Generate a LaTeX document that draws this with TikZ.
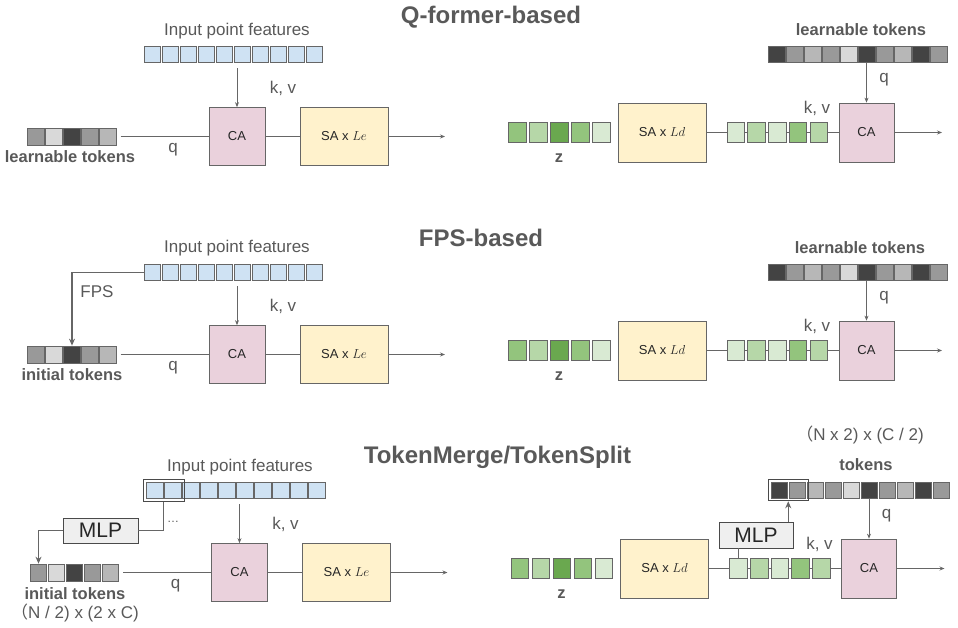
\RequirePackage{fix-cm}
\documentclass[tikz,border=0pt]{standalone}
\usepackage{fontspec}
\setmainfont{Liberation Sans}
\newfontfamily\cjkfont{Noto Sans CJK SC}
\usetikzlibrary{arrows.meta,calc,fit}

\definecolor{txt}{HTML}{595959}
\definecolor{ln}{HTML}{666666}
\definecolor{bdr}{HTML}{666666}
\definecolor{bdrD}{HTML}{4A4A4A}
\definecolor{boxtxt}{HTML}{262626}
\definecolor{blueF}{HTML}{CFE2F3}
\definecolor{caF}{HTML}{EAD1DC}
\definecolor{saF}{HTML}{FFF2CC}
\definecolor{mlpF}{HTML}{EFEFEF}
\definecolor{kA}{HTML}{434343}
\definecolor{kB}{HTML}{999999}
\definecolor{kC}{HTML}{B7B7B7}
\definecolor{kD}{HTML}{D9D9D9}
\definecolor{gA}{HTML}{93C47D}
\definecolor{gB}{HTML}{B6D7A8}
\definecolor{gC}{HTML}{6AA84F}
\definecolor{gD}{HTML}{D9EAD3}

\tikzset{
  cell/.style={draw=bdr, line width=0.7pt, inner sep=0pt, minimum width=16.8pt, minimum height=16.8pt},
  tok/.style={cell, minimum width=16.4pt, minimum height=17pt},
  gcell/.style={cell, minimum width=17.6pt, minimum height=19.8pt},
  blk/.style={draw=bdr, line width=0.7pt, inner sep=0pt, text=boxtxt, font=\fontsize{13}{15}\selectfont},
  mlp/.style={draw=bdrD, line width=0.8pt, fill=mlpF, inner sep=0pt, text=boxtxt, font=\fontsize{21}{24}\selectfont},
  hbox/.style={draw=bdrD, line width=0.8pt, inner sep=2.5pt},
  conn/.style={draw=ln, line width=0.8pt},
  arr/.style={conn, -{Stealth[length=5pt,width=4pt]}},
  thickarr/.style={draw=ln, line width=1.4pt, -{Stealth[length=7pt,width=6pt]}},
  lbl/.style={text=txt, inner sep=0pt, font=\fontsize{17}{20}\selectfont},
  blbl/.style={text=txt, inner sep=0pt, font=\fontsize{16.5}{20}\selectfont\bfseries},
  ttl/.style={text=txt, inner sep=0pt, font=\fontsize{24}{28}\selectfont\bfseries},
  dotlbl/.style={text=txt, inner sep=0pt, font=\fontsize{12}{14}\selectfont},
}

\newcommand{\drawbase}[1]{%
  % ----- left (encoder) -----
  \foreach \i in {1,...,10}
    \node[cell, fill=blueF] (#1-ipf-\i) at ({152.25+18*(\i-1)},54.25) {};
  \foreach \c [count=\i] in {kB,kD,kA,kB,kC}
    \node[tok, fill=\c] (#1-lt-\i) at ({36+18*(\i-1)},136.5) {};
  \node[blk, fill=caF, minimum width=56pt, minimum height=58pt] (#1-ca1) at (237,136.5) {CA};
  \node[blk, fill=saF, minimum width=88pt, minimum height=58pt] (#1-sa1) at (344,136.5) {SA x $Le$};
  \coordinate (#1-out1) at (445,136.5);
  \draw[arr, shorten <=5pt] (#1-ca1.north |- #1-ipf-1.south) -- (#1-ca1.north);
  \draw[conn, shorten <=4pt] (#1-lt-5.east) -- (#1-ca1.west);
  \draw[conn] (#1-ca1.east) -- (#1-sa1.west);
  \draw[arr] (#1-sa1.east) -- (#1-out1);
  \node[lbl] (#1-q1) at (173,150) {q};
  \node[lbl] (#1-kv1) at (283,88) {k, v};
  % ----- right (decoder) -----
  \foreach \c [count=\i] in {kA,kB,kC,kB,kD,kA,kB,kC,kA,kB}
    \node[cell, minimum height=16pt, fill=\c] (#1-gt-\i) at ({776.75+18*(\i-1)},54) {};
  \node[blk, fill=caF, minimum width=55pt, minimum height=59pt] (#1-ca2) at (866.5,132.5) {CA};
  \node[blk, fill=saF, minimum width=88pt, minimum height=59pt] (#1-sa2) at (662,132.5) {SA x $Ld$};
  \foreach \c [count=\i] in {gA,gB,gC,gA,gD}
    \node[gcell, fill=\c] (#1-z-\i) at ({517.2+21*(\i-1)},132.5) {};
  \foreach \c [count=\i] in {gD,gB,gD,gA,gB}
    \node[gcell, fill=\c] (#1-g-\i) at ({735.9+20.7*(\i-1)},132.5) {};
  \coordinate (#1-out2) at (942,132.5);
  \draw[arr] (#1-ca2.north |- #1-gt-6.south) -- (#1-ca2.north);
  \draw[conn] (#1-sa2.east) -- (#1-g-1.west);
  \foreach \i [evaluate=\i as \j using int(\i+1)] in {1,...,4}
    \draw[conn] (#1-g-\i.east) -- (#1-g-\j.west);
  \draw[conn] (#1-g-5.east) -- (#1-ca2.west);
  \draw[arr] (#1-ca2.east) -- (#1-out2);
  \node[lbl] (#1-q2) at (884,80) {q};
  \node[lbl] (#1-kv2) at (817,108) {k, v};
  \node[blbl] (#1-zl) at (559,158) {z};
}

\begin{document}
\begin{tikzpicture}[x=1pt,y=-1pt]
\useasboundingbox (0,0) rectangle (958,627);

% ===== Q-former-based =====
\begin{scope}
  \drawbase{a}
  \node[ttl] (a-title) at (491,17) {Q-former-based};
  \node[lbl] (a-ipfl) at (237,31) {Input point features};
  \node[blbl] (a-ltl) at (70,157) {learnable tokens};
  \node[blbl] (a-gtl) at (861,30) {learnable tokens};
\end{scope}

% ===== FPS-based =====
\begin{scope}[shift={(0,218)}]
  \drawbase{b}
  \node[ttl] (b-title) at (481,20) {FPS-based};
  \node[lbl] (b-ipfl) at (237,30) {Input point features};
  \node[blbl] (b-ltl) at (72,157) {initial tokens};
  \node[blbl] (b-gtl) at (860,30) {learnable tokens};
  \draw[thickarr] (b-ipf-1.west) -| (b-lt-3.north);
  \node[lbl] (b-fps) at (97,74) {FPS};
\end{scope}

% ===== TokenMerge/TokenSplit =====
\begin{scope}[shift={(2.5,436)}]
  \drawbase{c}
  \node[ttl] (c-title) at (495,21) {TokenMerge/TokenSplit};
  \node[lbl] (c-ipfl) at (237.5,31) {Input point features};
  \node[hbox, fit=(c-ipf-1)(c-ipf-2)] (c-hb1) {};
  \node[mlp, minimum width=75pt, minimum height=25pt] (c-mlp1) at (98,94.5) {MLP};
  \draw[conn] (c-hb1.south -| c-ipf-1.east) |- (c-mlp1.east);
  \node[dotlbl] (c-dots) at (170.5,86) {…};
  \draw[thickarr] (c-mlp1.west) -| (c-lt-1.north);
  \node[blbl] (c-ltl) at (72.5,158) {initial tokens};
  \node[lbl] (c-dim1) at (72.5,177) {{\cjkfont （}N / 2) x (2 x C)};
  % right
  \node[hbox, fit=(c-gt-1)(c-gt-2)] (c-hb2) {};
  \node[mlp, minimum width=74pt, minimum height=26pt] (c-mlp2) at (753.5,99) {MLP};
  \draw[thickarr] (c-mlp2.north -| c-hb2.south) -- (c-hb2.south);
  \draw[conn] (c-g-1.north) -- (c-g-1.north |- c-mlp2.south);
  \node[lbl] (c-dim2) at (857.5,-1) {{\cjkfont （}N x 2) x (C / 2)};
  \node[blbl] (c-gtl) at (863.5,29) {tokens};
\end{scope}
\end{tikzpicture}
\end{document}
